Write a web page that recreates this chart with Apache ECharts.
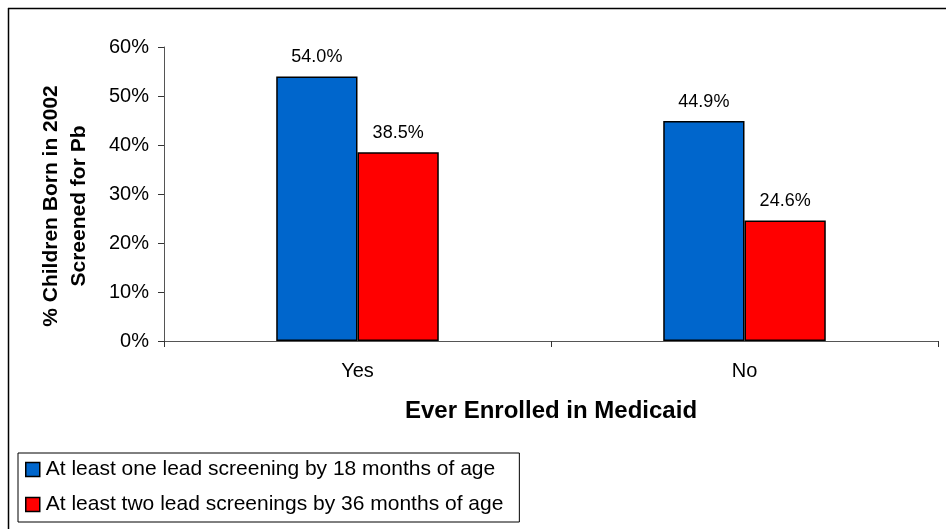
<!DOCTYPE html>
<html>
<head>
<meta charset="utf-8">
<script src="https://cdn.jsdelivr.net/npm/echarts@6/dist/echarts.min.js"></script>
<style>
html,body{margin:0;padding:0;background:#fff;}
#c{width:946px;height:529px;}
</style>
</head>
<body>
<div id="c"></div>
<script>
var categories = ['Yes', 'No'];
var seriesNames = ['At least one lead screening by 18 months of age', 'At least two lead screenings by 36 months of age'];
var oneBy18 = [54.0, 44.9];
var twoBy36 = [38.5, 24.6];
var yTicks = [0, 10, 20, 30, 40, 50, 60];
var colors = ['#0066CC', '#FF0000'];

var FONT = 'Arial, "Liberation Sans", sans-serif';
var chart = echarts.init(document.getElementById('c'), null, {renderer: 'canvas'});

function mkSeries(name, data, color) {
  return {
    name: name,
    type: 'bar',
    data: data,
    barGap: '0%',
    barCategoryGap: '58%',
    itemStyle: {color: color, borderColor: '#000', borderWidth: 1.5},
    label: {
      show: true, position: 'top', distance: 10,
      formatter: function (p) { return p.value.toFixed(1) + '%'; },
      fontFamily: FONT, fontSize: 18, color: '#000'
    },
    emphasis: {disabled: true}
  };
}

chart.setOption({
  animation: false,
  backgroundColor: '#fff',
  grid: {left: 164, right: 8, top: 47, bottom: 188, containLabel: false},
  xAxis: {
    type: 'category',
    data: categories,
    boundaryGap: true,
    axisLine: {lineStyle: {color: '#555', width: 1}},
    axisTick: {show: true, alignWithLabel: false, length: 6, lineStyle: {color: '#333'}},
    axisLabel: {fontFamily: FONT, fontSize: 20, color: '#000', margin: 20},
    name: 'Ever Enrolled in Medicaid',
    nameLocation: 'middle',
    nameGap: 58,
    nameTextStyle: {fontFamily: FONT, fontSize: 24, fontWeight: 'bold', color: '#000'}
  },
  yAxis: {
    type: 'value',
    min: yTicks[0],
    max: yTicks[yTicks.length - 1],
    interval: 10,
    splitLine: {show: false},
    axisLine: {show: true, lineStyle: {color: '#555', width: 1}},
    axisTick: {show: true, length: 6, lineStyle: {color: '#333'}},
    axisLabel: {fontFamily: FONT, fontSize: 20, color: '#000', margin: 15, formatter: '{value}%'}
  },
  legend: {
    orient: 'vertical',
    left: 18, top: 453,
    padding: [6, 16, 7, 7],
    itemGap: 14,
    itemWidth: 14, itemHeight: 14,
    icon: 'rect',
    borderColor: '#000', borderWidth: 1,
    textStyle: {fontFamily: FONT, fontSize: 21, color: '#000', lineHeight: 21, padding: [0, 0, 0, 1]},
    itemStyle: {borderColor: '#000', borderWidth: 1.5},
    selectedMode: false,
    data: seriesNames
  },
  graphic: [
    {type: 'line', shape: {x1: 8, y1: 8.5, x2: 946, y2: 8.5}, style: {stroke: '#000', lineWidth: 1.5}, silent: true},
    {type: 'line', shape: {x1: 8.5, y1: 8, x2: 8.5, y2: 529}, style: {stroke: '#000', lineWidth: 1.5}, silent: true},
    {
      type: 'text', x: 65, y: 206, rotation: Math.PI / 2, silent: true,
      style: {
        text: '% Children Born in 2002\nScreened for Pb',
        fontFamily: FONT, fontSize: 21, fontWeight: 'bold', fill: '#000',
        align: 'center', verticalAlign: 'middle', lineHeight: 28
      }
    }
  ],
  series: [
    mkSeries(seriesNames[0], oneBy18, colors[0]),
    mkSeries(seriesNames[1], twoBy36, colors[1])
  ]
});
</script>
</body>
</html>
